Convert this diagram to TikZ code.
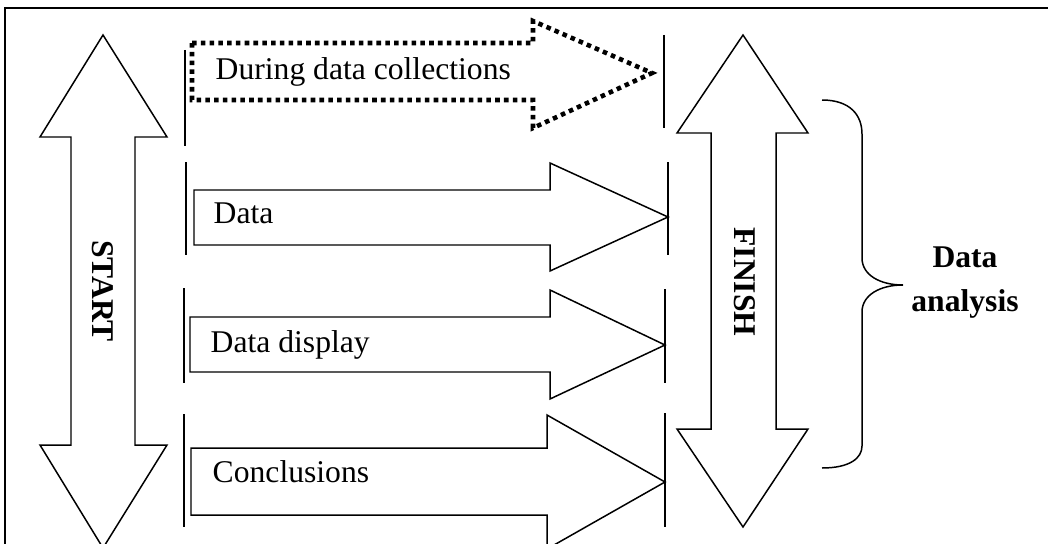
\documentclass[tikz,border=0pt]{standalone}
\usepackage{fontspec}
\setmainfont{Liberation Serif}
\begin{document}
\begin{tikzpicture}[x=0.02cm,y=-0.02cm,line width=0.85pt,font=\fontsize{18}{25}\selectfont]
\useasboundingbox (0,0) rectangle (1048,544);
\clip (0,0) rectangle (1048,544);
\draw[line width=1.6pt] (5,560) -- (5,8) -- (1060,8);
\draw[] (103,35) -- (167,137) -- (135,137) -- (135,445) -- (167,445) -- (103,548) -- (40,445) -- (71,445) -- (71,137) -- (40,137) -- cycle;
\node[rotate=-90, font=\fontsize{18}{25}\selectfont\bfseries] (start) at (103,291){START};
\draw[] (743,35) -- (808,133) -- (776,133) -- (776,429) -- (808,429) -- (743,527) -- (677,429) -- (711,429) -- (711,133) -- (677,133) -- cycle;
\node[rotate=-90, font=\fontsize{18}{25}\selectfont\bfseries] (finish) at (745,282){FINISH};
\draw[line width=2.6pt, dash pattern=on 2.6pt off 2.4pt] (192,43) -- (533,43) -- (533,21) -- (652,73) -- (533,128) -- (533,100) -- (192,100) -- cycle;
\node[anchor=base west, inner sep=0pt] (collect) at (215,80){During data collections};
\draw[] (194,190) -- (550,190) -- (550,163) -- (668,217) -- (550,271) -- (550,245) -- (194,245) -- cycle;
\node[anchor=base west, inner sep=0pt] (data) at (213,223){Data};
\draw[] (190,317) -- (550,317) -- (550,290) -- (665,345) -- (550,399) -- (550,372) -- (190,372) -- cycle;
\node[anchor=base west, inner sep=0pt] (display) at (210,352){Data display};
\draw[] (191,448) -- (547,448) -- (547,415) -- (665,482) -- (547,549) -- (547,515) -- (191,515) -- cycle;
\node[anchor=base west, inner sep=0pt] (concl) at (212,482){Conclusions};
\draw[] (185,50) -- (185,146);
\draw[] (186,162) -- (186,255);
\draw[] (184,288) -- (184,383);
\draw[] (184,414) -- (184,527);
\draw[] (664,35) -- (664,128);
\draw[] (668,162) -- (668,255);
\draw[] (665,289) -- (665,383);
\draw[] (665,413) -- (665,527);
\draw[] (822,100) .. controls (850,100) and (862,115) .. (862,134) -- (862,258) .. controls (862,275) and (880,285) .. (903,285) .. controls (880,285) and (862,295) .. (862,312) -- (862,446) .. controls (862,458) and (850,468) .. (822,468);
\node[align=center, font=\fontsize{18}{25}\selectfont\bfseries] (analysis) at (965,283){Data\\analysis};
\end{tikzpicture}
\end{document}
